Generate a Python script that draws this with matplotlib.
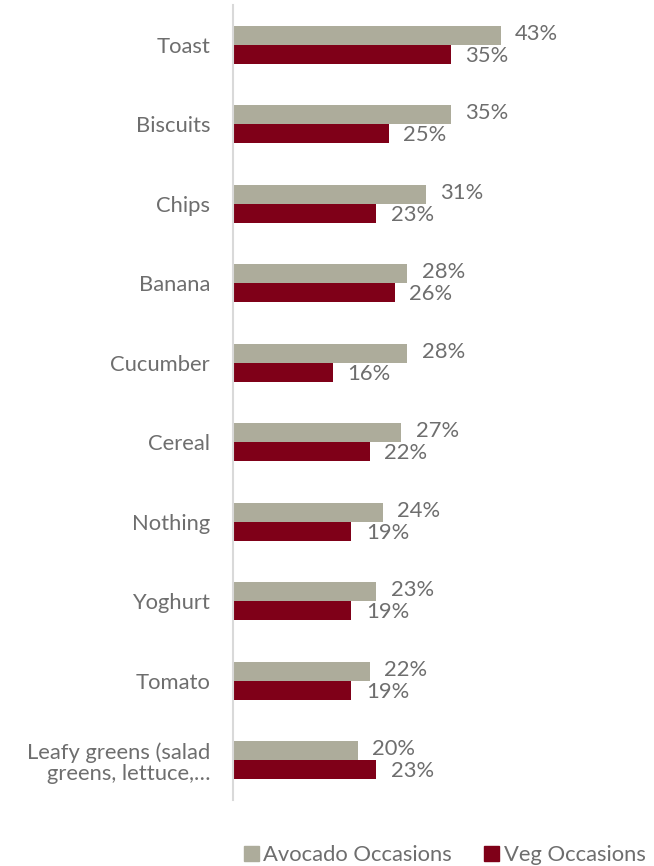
import numpy as np
import matplotlib.pyplot as plt
from matplotlib.patches import Patch

plt.rcParams['font.family'] = ['Lato', 'DejaVu Sans']

categories = ["Toast", "Biscuits", "Chips", "Banana", "Cucumber", "Cereal",
              "Nothing", "Yoghurt", "Tomato",
              "Leafy greens (salad\ngreens, lettuce,\u2026"]
avocado = [43, 35, 31, 28, 28, 27, 24, 23, 22, 20]
veg = [35, 25, 23, 26, 16, 22, 19, 19, 19, 23]

grey = "#ADAC9B"
red = "#7F0018"
txt = "#6E6E6E"
fs = 15.8

fig = plt.figure(figsize=(6.54, 8.66), dpi=100)
ax = fig.add_axes([0.3563, 0.0762, 0.4763, 0.918])

y = np.arange(len(categories))
h = 0.24
ax.barh(y - h / 2, avocado, height=h, color=grey, label="Avocado Occasions")
ax.barh(y + h / 2, veg, height=h, color=red, label="Veg Occasions")

for yi, a, v in zip(y, avocado, veg):
    ax.text(a + 2.3, yi - h / 2 - 0.02, f"{a}%", va="center", ha="left", fontsize=fs, color=txt)
    ax.text(v + 2.3, yi + h / 2 + 0.02, f"{v}%", va="center", ha="left", fontsize=fs, color=txt)

ax.set_xlim(0, 50)
ax.set_ylim(len(categories) - 0.5, -0.5)
ax.set_yticks(y)
ax.set_yticklabels(categories, fontsize=fs, color=txt, linespacing=1.1)
ax.tick_params(axis="y", length=0, pad=16.5)
ax.set_xticks([])
for s in ["top", "right", "bottom"]:
    ax.spines[s].set_visible(False)
ax.spines["left"].set_color("#D9D9D9")
ax.spines["left"].set_linewidth(1.5)

handles = [Patch(color=grey, label="Avocado Occasions"),
           Patch(color=red, label="Veg Occasions")]
fig.legend(handles=handles, loc="center", bbox_to_anchor=(0.68, 0.0127), ncol=2,
           frameon=False, fontsize=fs, labelcolor=txt, handlelength=0.7,
           handleheight=0.7, handletextpad=0.21, columnspacing=1.45,
           borderpad=0, borderaxespad=0)

fig.savefig("out.png", dpi=100)
